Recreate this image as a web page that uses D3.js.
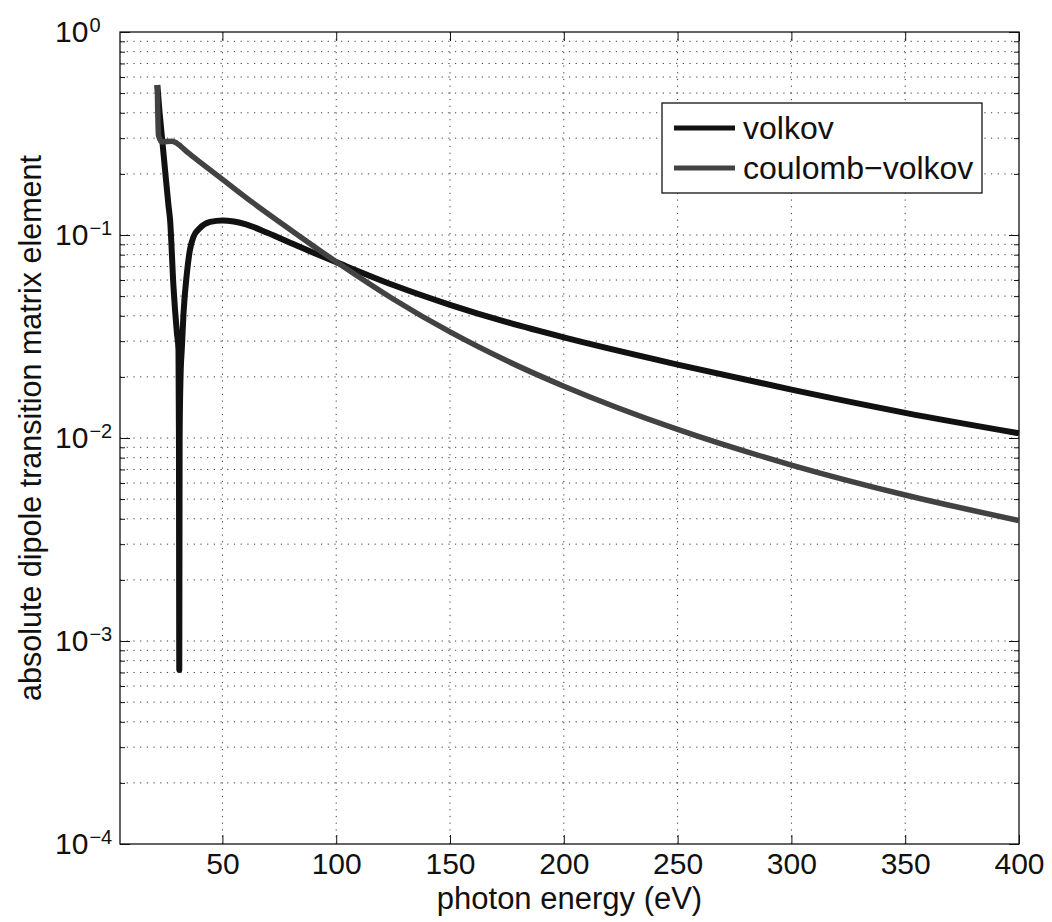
<!DOCTYPE html>
<html>
<head>
<meta charset="utf-8">
<script src="https://cdn.jsdelivr.net/npm/d3@7"></script>
<style>
  body { margin: 0; background: #fff; }
  text { font-family: "Liberation Sans", Arial, sans-serif; fill: #111; }
</style>
</head>
<body>
<script>
// values
const volkovEnergy = [21.4, 22.4, 23.6, 24.8, 26.3, 27.0, 28.5, 30.0, 30.7, 30.9, 31.05,
  31.2, 31.6, 32.2, 32.9, 34.4, 35.6, 37.3, 40, 44.6, 50, 55, 60, 70, 80, 90, 100,
  125, 150, 175, 200, 250, 300, 350, 400];
const volkovValue = [0.548, 0.40, 0.29, 0.209, 0.14, 0.119, 0.0556, 0.0329, 0.0271, 0.01, 0.00072,
  0.01, 0.02, 0.028, 0.041, 0.065, 0.083, 0.098, 0.108, 0.116, 0.118, 0.1165, 0.113, 0.1023, 0.0914, 0.0818, 0.0735,
  0.0567, 0.0453, 0.0372, 0.0313, 0.0230, 0.0173, 0.0133, 0.01055];

const coulombEnergy = [21.4, 21.9, 23.5, 27.8, 30, 35, 40, 50, 63.5, 80, 100,
  125, 150, 175, 200, 250, 300, 350, 400];
const coulombValue = [0.548, 0.31, 0.287, 0.29, 0.283, 0.2535, 0.229, 0.188, 0.1439, 0.1059, 0.0738,
  0.0484, 0.0333, 0.0240, 0.0180, 0.01102, 0.00736, 0.00524, 0.00392];

const seriesNames = ['volkov', 'coulomb\u2212volkov'];
const seriesColors = ['#111111', '#424242'];

const xTicks = [50, 100, 150, 200, 250, 300, 350, 400];
const yExps = [0, -1, -2, -3, -4];

const width = 1052, height = 922;
const margin = {top: 32, right: 33, bottom: 78, left: 120};

const svg = d3.select('body').append('svg')
    .attr('width', width)
    .attr('height', height);

const x = d3.scaleLinear()
    .domain([5, 400])
    .range([margin.left, width - margin.right]);

const y = d3.scaleLog()
    .domain([1e-4, 1])
    .range([height - margin.bottom, margin.top]);

const majorY = yExps.map(e => Math.pow(10, e));
let minorY = [];
yExps.slice(0, 4).forEach(e => {
    for (let m = 2; m <= 9; m++) minorY.push(m * Math.pow(10, e - 1));
});

// dotted grid
const grid = svg.append('g')
    .attr('stroke', '#3a3a3a')
    .attr('stroke-width', 1)
    .attr('stroke-dasharray', '1.2,5.5');

grid.selectAll('line.gx')
    .data(xTicks.slice(0, -1))
    .enter().append('line')
    .attr('x1', d => x(d)).attr('x2', d => x(d))
    .attr('y1', margin.top).attr('y2', height - margin.bottom);

grid.selectAll('line.gy')
    .data(minorY.concat(majorY.slice(1, 4)))
    .enter().append('line')
    .attr('x1', margin.left).attr('x2', width - margin.right)
    .attr('y1', d => y(d)).attr('y2', d => y(d));

const noDomain = g => g.select('.domain').remove();

// bottom + top axes
svg.append('g')
    .attr('transform', `translate(0,${height - margin.bottom})`)
    .call(d3.axisBottom(x).tickValues(xTicks).tickSizeInner(-9).tickSizeOuter(0).tickPadding(9))
    .call(noDomain)
    .call(g => g.selectAll('text').style('font-size', '30px').attr('fill', '#111'));

svg.append('g')
    .attr('transform', `translate(0,${margin.top})`)
    .call(d3.axisTop(x).tickValues(xTicks).tickSizeInner(-9).tickSizeOuter(0).tickFormat(''))
    .call(noDomain);

// left axis, major + minor
svg.append('g')
    .attr('transform', `translate(${margin.left},0)`)
    .call(d3.axisLeft(y).tickValues(majorY).tickSizeInner(-10).tickSizeOuter(0))
    .call(noDomain)
    .call(g => g.selectAll('text').each(function(d) {
        const e = Math.round(Math.log10(d));
        const t = d3.select(this).text('')
            .attr('text-anchor', 'start')
            .attr('x', -65)
            .style('font-size', '30px');
        t.append('tspan').text('10');
        t.append('tspan')
            .attr('dx', 1)
            .attr('dy', -10)
            .style('font-size', '20px')
            .text(e === 0 ? '0' : '\u2212' + Math.abs(e));
    }));

svg.append('g')
    .attr('transform', `translate(${margin.left},0)`)
    .call(d3.axisLeft(y).tickValues(minorY).tickSizeInner(-5).tickSizeOuter(0).tickFormat(''))
    .call(noDomain);

// right axis
svg.append('g')
    .attr('transform', `translate(${width - margin.right},0)`)
    .call(d3.axisRight(y).tickValues(majorY).tickSizeInner(-10).tickSizeOuter(0).tickFormat(''))
    .call(noDomain);

svg.append('g')
    .attr('transform', `translate(${width - margin.right},0)`)
    .call(d3.axisRight(y).tickValues(minorY).tickSizeInner(-5).tickSizeOuter(0).tickFormat(''))
    .call(noDomain);

svg.selectAll('.tick line').attr('stroke', '#111');

// box
svg.append('rect')
    .attr('x', margin.left)
    .attr('y', margin.top)
    .attr('width', width - margin.left - margin.right)
    .attr('height', height - margin.top - margin.bottom)
    .attr('fill', 'none')
    .attr('stroke', '#111')
    .attr('stroke-width', 1.3);

// curves
const line = d3.line()
    .x(d => x(d[0]))
    .y(d => y(d[1]))
    .curve(d3.curveMonotoneX);

const series = [
    d3.zip(volkovEnergy, volkovValue),
    d3.zip(coulombEnergy, coulombValue)
];

svg.append('g')
    .selectAll('path')
    .data(series)
    .enter().append('path')
    .attr('d', line)
    .attr('fill', 'none')
    .attr('stroke', (d, i) => seriesColors[i])
    .attr('stroke-width', (d, i) => i === 0 ? 6 : 5.5)
    .attr('stroke-linejoin', 'round');

// legend
const legend = svg.append('g');
legend.append('rect')
    .attr('x', 662).attr('y', 103)
    .attr('width', 320).attr('height', 90)
    .attr('fill', '#fff')
    .attr('stroke', '#111')
    .attr('stroke-width', 1.3);

const rows = legend.selectAll('g.row')
    .data(seriesNames)
    .enter().append('g')
    .attr('transform', (d, i) => `translate(674,${128 + i * 40})`);

rows.append('line')
    .attr('x1', 0).attr('x2', 61)
    .attr('stroke', (d, i) => seriesColors[i])
    .attr('stroke-width', 5);

rows.append('text')
    .attr('x', 69)
    .attr('y', 11)
    .style('font-size', '32px')
    .text(d => d);

// axis titles
svg.append('text')
    .attr('x', (margin.left + width - margin.right) / 2)
    .attr('y', 909)
    .attr('text-anchor', 'middle')
    .style('font-size', '31px')
    .text('photon energy (eV)');

svg.append('text')
    .attr('transform', 'translate(41,428) rotate(-90)')
    .attr('text-anchor', 'middle')
    .style('font-size', '30.5px')
    .text('absolute dipole transition matrix element');
</script>
</body>
</html>
